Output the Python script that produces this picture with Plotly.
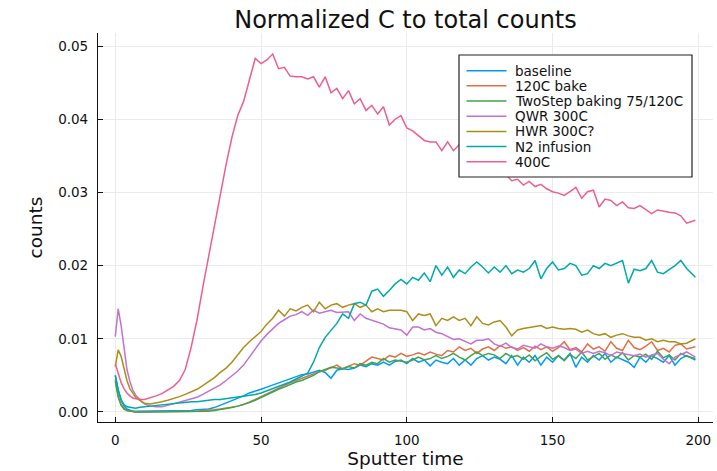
import plotly.graph_objects as go

# ---------------- data ----------------
sputter_time = list(range(0, 10)) + list(range(10, 198, 2)) + [199]

baseline = [
    0.0050, 0.0030, 0.0016, 0.0008, 0.0004, 0.0002, 0.0001, 0.0001, 0.0001, 0.0001,
    0.0001, 0.0001, 0.0001, 0.0001, 0.0001, 0.0001, 0.0002, 0.0002, 0.0002, 0.0003,
    0.0003, 0.0004, 0.0006, 0.0009, 0.0012, 0.0015, 0.0019, 0.0022, 0.0026, 0.0028,
    0.0031, 0.0034, 0.0037, 0.0040, 0.0043, 0.0046, 0.0049, 0.0051, 0.0052, 0.0055,
    0.0057, 0.0054, 0.0046, 0.0057, 0.0059, 0.0058, 0.0060, 0.0064, 0.0062, 0.0066,
    0.0064, 0.0068, 0.0064, 0.0069,
    0.0071, 0.0066, 0.0073, 0.0068, 0.0071, 0.0063, 0.0071, 0.0068, 0.0066, 0.0073,
    0.0064, 0.0071, 0.0064, 0.0073, 0.0077, 0.0071, 0.0075, 0.0072, 0.0066, 0.0077,
    0.0064, 0.0075, 0.0068, 0.0077, 0.0064,
    0.0075, 0.0068, 0.0077, 0.0071, 0.0080, 0.0061, 0.0075, 0.0068, 0.0077, 0.0071,
    0.0080, 0.0068, 0.0075, 0.0071, 0.0068, 0.0061, 0.0075, 0.0068, 0.0077, 0.0073,
    0.0068, 0.0077, 0.0064, 0.0073, 0.0077,
    0.0071,
]

bake_120c = [
    0.0045, 0.0022, 0.0010, 0.0005, 0.0002, 0.0001, 0.0001, 0.0000, 0.0000, 0.0000,
    0.0000, 0.0000, 0.0000, 0.0000, 0.0000, 0.0001, 0.0001, 0.0001, 0.0001, 0.0001,
    0.0002, 0.0002, 0.0003, 0.0004, 0.0005, 0.0006, 0.0008, 0.0010, 0.0013, 0.0017,
    0.0021, 0.0025, 0.0029, 0.0033, 0.0036, 0.0040, 0.0043, 0.0046, 0.0050, 0.0052,
    0.0055, 0.0057, 0.0060, 0.0064, 0.0059, 0.0063, 0.0066, 0.0064, 0.0070, 0.0075,
    0.0073, 0.0071, 0.0077, 0.0075,
    0.0080, 0.0076, 0.0078, 0.0081, 0.0078, 0.0082, 0.0079, 0.0077, 0.0084, 0.0082,
    0.0089, 0.0084, 0.0087, 0.0080, 0.0086, 0.0089, 0.0084, 0.0091, 0.0087, 0.0089,
    0.0084, 0.0088, 0.0083, 0.0090, 0.0085,
    0.0089, 0.0083, 0.0088, 0.0096, 0.0085, 0.0088, 0.0082, 0.0093, 0.0086, 0.0089,
    0.0083, 0.0096, 0.0087, 0.0084, 0.0098, 0.0088, 0.0085, 0.0090, 0.0096, 0.0084,
    0.0087, 0.0082, 0.0091, 0.0093, 0.0086,
    0.0089,
]

twostep = [
    0.0042, 0.0020, 0.0009, 0.0004, 0.0002, 0.0001, 0.0000, 0.0000, 0.0000, 0.0000,
    0.0000, 0.0000, 0.0000, 0.0000, 0.0000, 0.0000, 0.0001, 0.0001, 0.0001, 0.0001,
    0.0001, 0.0001, 0.0002, 0.0003, 0.0004, 0.0006, 0.0008, 0.0010, 0.0013, 0.0016,
    0.0020, 0.0024, 0.0028, 0.0031, 0.0034, 0.0038, 0.0041, 0.0043, 0.0046, 0.0050,
    0.0055, 0.0058, 0.0061, 0.0060, 0.0059, 0.0062, 0.0060, 0.0066, 0.0064, 0.0068,
    0.0066, 0.0073, 0.0068, 0.0071,
    0.0069, 0.0068, 0.0071, 0.0075, 0.0071, 0.0073, 0.0077, 0.0073, 0.0076, 0.0080,
    0.0075, 0.0071, 0.0077, 0.0082, 0.0077, 0.0080, 0.0078, 0.0073, 0.0080, 0.0075,
    0.0077, 0.0072, 0.0078, 0.0070, 0.0076,
    0.0081, 0.0072, 0.0077, 0.0070, 0.0079, 0.0073, 0.0082, 0.0071, 0.0076, 0.0080,
    0.0072, 0.0078, 0.0074, 0.0081, 0.0071, 0.0077, 0.0075, 0.0079, 0.0072, 0.0083,
    0.0074, 0.0078, 0.0071, 0.0080, 0.0076,
    0.0073,
]

qwr_300c = [
    0.0103, 0.0141, 0.0118, 0.0085, 0.0058, 0.0042, 0.0030, 0.0023, 0.0018, 0.0014,
    0.0011, 0.0008, 0.0007, 0.0007, 0.0009, 0.0011, 0.0013, 0.0015, 0.0017, 0.0020,
    0.0024, 0.0028, 0.0032, 0.0037, 0.0043, 0.0049, 0.0056, 0.0064, 0.0075, 0.0087,
    0.0097, 0.0106, 0.0114, 0.0121, 0.0126, 0.0131, 0.0133, 0.0137, 0.0132, 0.0139,
    0.0135, 0.0137, 0.0139, 0.0136, 0.0137, 0.0137, 0.0125, 0.0134, 0.0128, 0.0125,
    0.0123, 0.0120, 0.0115, 0.0114,
    0.0112, 0.0105, 0.0116, 0.0116, 0.0112, 0.0114, 0.0109, 0.0107, 0.0103, 0.0099,
    0.0100, 0.0097, 0.0093, 0.0098, 0.0098, 0.0100, 0.0093, 0.0090, 0.0094, 0.0088,
    0.0086, 0.0091, 0.0089, 0.0087, 0.0093,
    0.0089, 0.0087, 0.0090, 0.0088, 0.0084, 0.0086, 0.0080, 0.0083, 0.0080, 0.0083,
    0.0081, 0.0077, 0.0082, 0.0080, 0.0078, 0.0077, 0.0079, 0.0075, 0.0078, 0.0080,
    0.0072, 0.0066, 0.0075, 0.0078, 0.0082,
    0.0075,
]

hwr_300c = [
    0.0062, 0.0085, 0.0076, 0.0058, 0.0043, 0.0032, 0.0025, 0.0020, 0.0017, 0.0014,
    0.0012, 0.0011, 0.0012, 0.0014, 0.0016, 0.0018, 0.0021, 0.0024, 0.0027, 0.0031,
    0.0036, 0.0041, 0.0047, 0.0054, 0.0060, 0.0068, 0.0078, 0.0088, 0.0096, 0.0103,
    0.0110, 0.0120, 0.0128, 0.0139, 0.0131, 0.0141, 0.0138, 0.0143, 0.0146, 0.0137,
    0.0150, 0.0141, 0.0146, 0.0148, 0.0143, 0.0146, 0.0148, 0.0143, 0.0146, 0.0137,
    0.0141, 0.0137, 0.0139, 0.0139,
    0.0139, 0.0137, 0.0125, 0.0134, 0.0132, 0.0134, 0.0118, 0.0128, 0.0125, 0.0130,
    0.0125, 0.0128, 0.0118, 0.0130, 0.0121, 0.0119, 0.0123, 0.0125, 0.0116, 0.0104,
    0.0112, 0.0114, 0.0115, 0.0117, 0.0118,
    0.0114, 0.0116, 0.0114, 0.0113, 0.0114, 0.0113, 0.0109, 0.0112, 0.0107, 0.0105,
    0.0107, 0.0102, 0.0105, 0.0107, 0.0104, 0.0102, 0.0102, 0.0098, 0.0100, 0.0096,
    0.0098, 0.0096, 0.0096, 0.0093, 0.0094,
    0.0100,
]

n2_infusion = [
    0.0050, 0.0030, 0.0017, 0.0010, 0.0007, 0.0006, 0.0005, 0.0005, 0.0006, 0.0006,
    0.0007, 0.0008, 0.0009, 0.0010, 0.0011, 0.0012, 0.0012, 0.0013, 0.0014, 0.0014,
    0.0015, 0.0016, 0.0017, 0.0017, 0.0018, 0.0019, 0.0020, 0.0021, 0.0022, 0.0024,
    0.0026, 0.0029, 0.0031, 0.0034, 0.0037, 0.0041, 0.0045, 0.0049, 0.0053, 0.0068,
    0.0088, 0.0102, 0.0112, 0.0121, 0.0134, 0.0128, 0.0148, 0.0150, 0.0146, 0.0165,
    0.0168, 0.0158, 0.0166, 0.0175,
    0.0181, 0.0175, 0.0184, 0.0180, 0.0190, 0.0178, 0.0200, 0.0187, 0.0198, 0.0184,
    0.0194, 0.0189, 0.0198, 0.0205, 0.0198, 0.0190, 0.0198, 0.0191, 0.0200, 0.0189,
    0.0194, 0.0191, 0.0196, 0.0207, 0.0182,
    0.0196, 0.0205, 0.0194, 0.0196, 0.0203, 0.0200, 0.0187, 0.0189, 0.0200, 0.0196,
    0.0203, 0.0200, 0.0203, 0.0207, 0.0176, 0.0195, 0.0193, 0.0196, 0.0207, 0.0191,
    0.0189, 0.0194, 0.0200, 0.0207, 0.0196,
    0.0184,
]

c400 = [
    0.0066, 0.0052, 0.0040, 0.0032, 0.0026, 0.0022, 0.0019, 0.0018, 0.0017, 0.0017,
    0.0017, 0.0019, 0.0022, 0.0025, 0.0030, 0.0035, 0.0043, 0.0058, 0.0088, 0.0125,
    0.0170, 0.0213, 0.0256, 0.0298, 0.0338, 0.0375, 0.0405, 0.0424, 0.0455, 0.0483,
    0.0476, 0.0481, 0.0489, 0.0469, 0.0471, 0.0459, 0.0458, 0.0458, 0.0455, 0.0458,
    0.0444, 0.0458, 0.0436, 0.0442, 0.0428, 0.0439, 0.0421, 0.0428, 0.0412, 0.0419,
    0.0407, 0.0417, 0.0392, 0.0400,
    0.0405, 0.0388, 0.0384, 0.0377, 0.0371, 0.0369, 0.0369, 0.0357, 0.0369, 0.0357,
    0.0365, 0.0350, 0.0352, 0.0343, 0.0346, 0.0336, 0.0338, 0.0328, 0.0324, 0.0316,
    0.0318, 0.0310, 0.0315, 0.0308, 0.0311,
    0.0305, 0.0301, 0.0299, 0.0296, 0.0301, 0.0307, 0.0292, 0.0301, 0.0303, 0.0280,
    0.0291, 0.0289, 0.0282, 0.0287, 0.0279, 0.0278, 0.0282, 0.0276, 0.0271, 0.0276,
    0.0274, 0.0273, 0.0272, 0.0268, 0.0258,
    0.0262,
]

series_names = ["baseline", "120C bake", "TwoStep baking 75/120C", "QWR 300C",
                "HWR 300C?", "N2 infusion", "400C"]
series_values = [baseline, bake_120c, twostep, qwr_300c, hwr_300c, n2_infusion, c400]
series_colors = ["#009AFA", "#E36F47", "#3EA44E", "#C371D2", "#AC8E18", "#00A9AD", "#ED5E93"]

x_ticks = [0, 50, 100, 150, 200]
y_ticks = [0.00, 0.01, 0.02, 0.03, 0.04, 0.05]
y_tick_labels = ["0.00", "0.01", "0.02", "0.03", "0.04", "0.05"]

# ---------------- layout constants ----------------
W, H = 717, 471
ML, MR, MT, MB = 98, 4, 33, 49
PW, PH = W - ML - MR, H - MT - MB
FONT = "DejaVu Sans"


def px_x(px):
    return (px - ML) / PW


def px_y(py):
    return (H - MB - py) / PH


fig = go.Figure()
for name, vals, col in zip(series_names, series_values, series_colors):
    fig.add_trace(go.Scatter(x=sputter_time, y=vals, mode="lines", name=name,
                             line=dict(color=col, width=1.5), showlegend=False))

# legend drawn manually (box + samples + text) to match compact spacing
shapes = [dict(type="rect", xref="paper", yref="paper",
               x0=px_x(459), x1=px_x(692), y0=px_y(177), y1=px_y(55),
               line=dict(color="#222222", width=1.2), fillcolor="white", layer="above")]
annotations = []
for i, (name, col) in enumerate(zip(series_names, series_colors)):
    yc = 70.7 + 15.17 * i
    shapes.append(dict(type="line", xref="paper", yref="paper",
                       x0=px_x(466.5), x1=px_x(506.5), y0=px_y(yc), y1=px_y(yc),
                       line=dict(color=col, width=1.5), layer="above"))
    annotations.append(dict(text=name, xref="paper", yref="paper",
                            x=px_x(513), y=px_y(yc), xanchor="left", yanchor="middle",
                            showarrow=False, font=dict(family=FONT, size=13.5, color="#111111")))

axis_common = dict(
    showline=True, linecolor="#111111", linewidth=1.2, mirror=False,
    ticks="inside", ticklen=5, tickcolor="#111111", tickwidth=1,
    showgrid=True, gridcolor="#EBEBEB", gridwidth=0.8, zeroline=False,
    tickfont=dict(family=FONT, size=13.5, color="#111111"),
)

fig.update_layout(
    width=W, height=H,
    margin=dict(l=ML, r=MR, t=MT, b=MB, pad=0),
    paper_bgcolor="white", plot_bgcolor="white",
    title=dict(text="Normalized C to total counts", x=px_x(405.5), xref="paper",
               y=1 - 20 / H, yref="container", xanchor="center", yanchor="middle",
               font=dict(family=FONT, size=24, color="#111111")),
    xaxis=dict(range=[-5.93, 205.04], tickvals=x_ticks, ticklabelstandoff=6,
               title=dict(text="Sputter time", standoff=4,
                          font=dict(family=FONT, size=18.5, color="#111111")),
               **axis_common),
    yaxis=dict(range=[-0.00137, 0.05178], tickvals=y_ticks, ticktext=y_tick_labels,
               ticklabelstandoff=6,
               title=dict(text="counts", standoff=10,
                          font=dict(family=FONT, size=18.5, color="#111111")),
               **axis_common),
    shapes=shapes,
    annotations=annotations,
)

fig.write_html("out.html")
